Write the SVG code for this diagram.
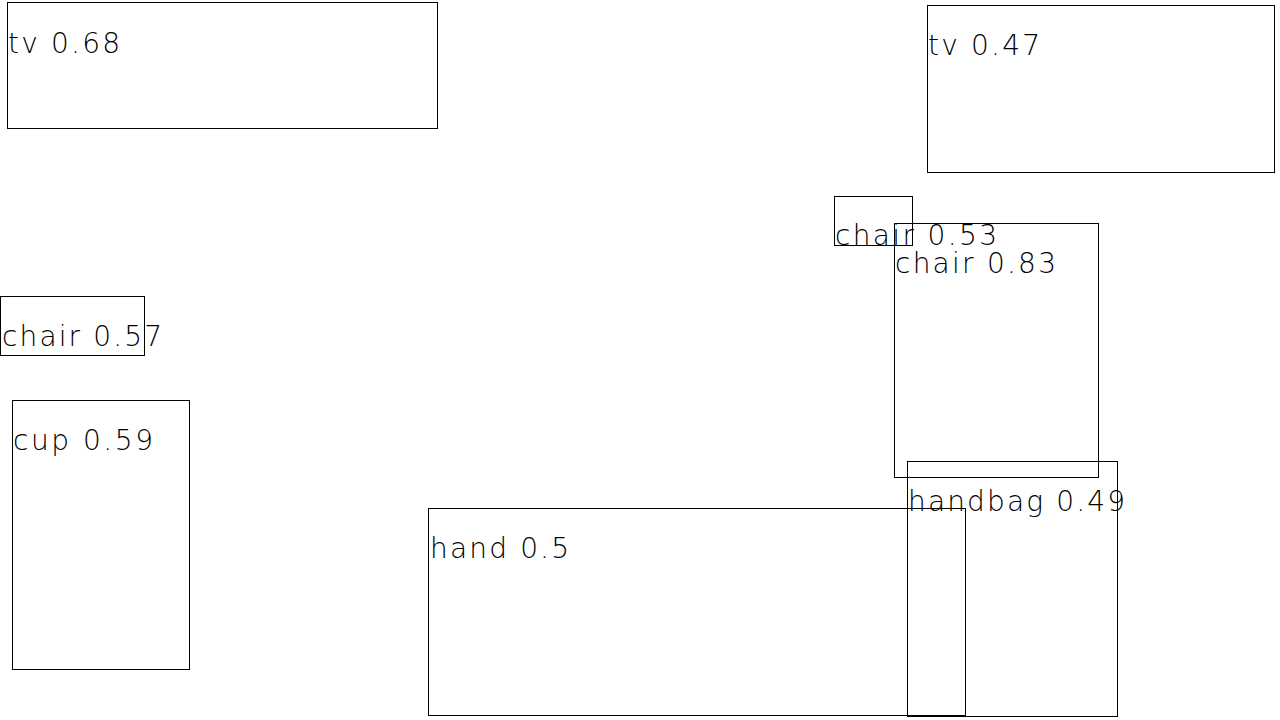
<svg xmlns="http://www.w3.org/2000/svg" width="1280" height="720" viewBox="0 0 1280 720">
<style>
rect.box{fill:none;stroke:#000;stroke-width:1;shape-rendering:crispEdges}
text{font-family:"DejaVu Sans","Liberation Sans",sans-serif;font-weight:200;font-size:28px;fill:#000}
</style>
<rect width="1280" height="720" fill="#fff"/>
<g id="tv1"><rect class="box" x="7.5" y="2.5" width="430" height="126"/><text x="8" y="53" textLength="112" lengthAdjust="spacing">tv 0.68</text></g>
<g id="tv2"><rect class="box" x="927.5" y="5.5" width="347" height="167"/><text x="928" y="55" textLength="112" lengthAdjust="spacing">tv 0.47</text></g>
<g id="chair053"><rect class="box" x="834.5" y="196.5" width="78" height="49"/><text x="835" y="245" textLength="162" lengthAdjust="spacing">chair 0.53</text></g>
<g id="chair083"><rect class="box" x="894.5" y="223.5" width="204" height="254"/><text x="895" y="273" textLength="161" lengthAdjust="spacing">chair 0.83</text></g>
<g id="chair057"><rect class="box" x="0.5" y="296.5" width="144" height="59"/><text x="2" y="346" textLength="160" lengthAdjust="spacing">chair 0.57</text></g>
<g id="cup"><rect class="box" x="12.5" y="400.5" width="177" height="269"/><text x="13" y="450" textLength="140" lengthAdjust="spacing">cup 0.59</text></g>
<g id="handbag"><rect class="box" x="907.5" y="461.5" width="210" height="255"/><text x="908" y="511" textLength="217" lengthAdjust="spacing">handbag 0.49</text></g>
<g id="hand"><rect class="box" x="428.5" y="508.5" width="537" height="207"/><text x="430" y="558" textLength="139" lengthAdjust="spacing">hand 0.5</text></g>
</svg>
